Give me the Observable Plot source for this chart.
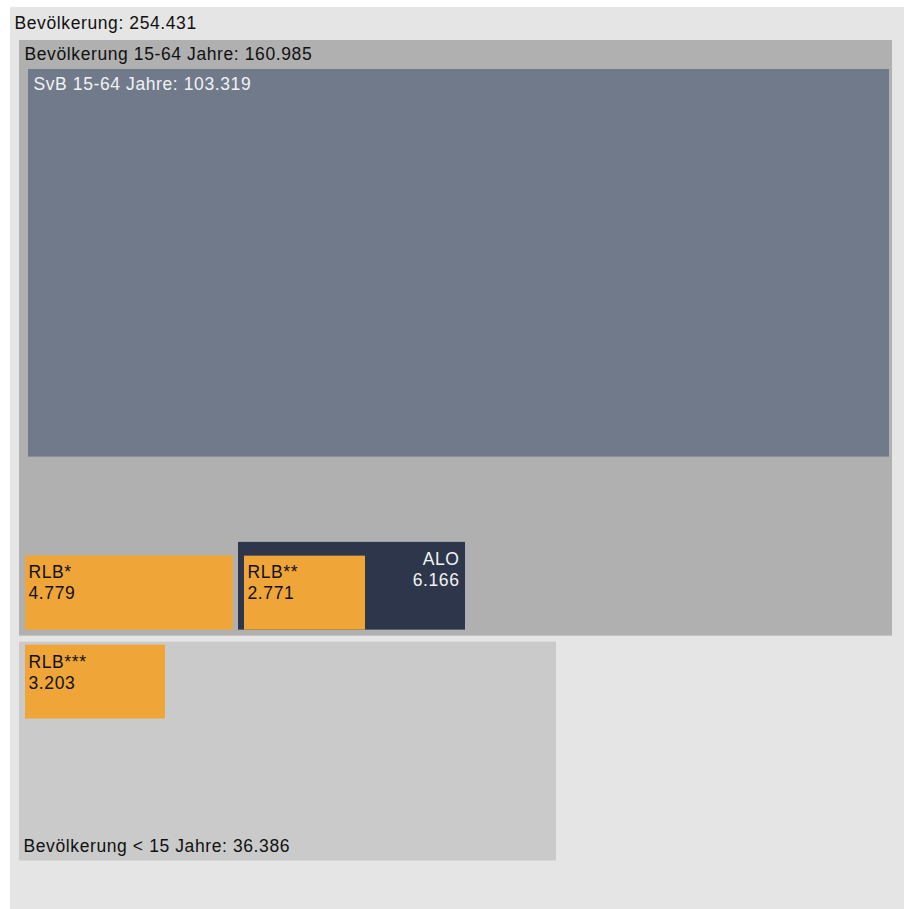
<!DOCTYPE html>
<html>
<head>
<meta charset="utf-8">
<script src="https://cdn.jsdelivr.net/npm/d3@7"></script>
<script src="https://cdn.jsdelivr.net/npm/@observablehq/plot@0.6"></script>
<style>
  html, body { margin: 0; padding: 0; background: #ffffff; }
  #chart svg { display: block; font-family: "Liberation Sans", Arial, sans-serif; }
  #chart svg text { letter-spacing: 0.6px; }
</style>
</head>
<body>
<div id="chart"></div>
<script>
// ---- data ----
const names   = ["Bevölkerung", "Bevölkerung 15-64 Jahre", "SvB 15-64 Jahre", "RLB*", "ALO", "RLB**", "Bevölkerung < 15 Jahre", "RLB***"];
const values  = [254431, 160985, 103319, 4779, 6166, 2771, 36386, 3203];
const parents = [-1, 0, 1, 1, 1, 4, 0, 6];

// ---- layout / style (not data) ----
const AREA_PER_PERSON = 3.23;   // px² per person
const W = 904, H = 909;
const FS = 17.5;
const layout = [
  {w: 894, place: "origin", dx: 10, dy: 7,  fill: "#e5e5e5", label: "title", tx: 4,  ty: 9,  color: "#111"},
  {w: 873, place: "top",    dx: 9,  dy: 33, fill: "#b0b0b0", label: "title", tx: 5,  ty: 7,  color: "#111"},
  {w: 861, place: "top",    dx: 9,  dy: 29, fill: "#717a8b", label: "title", tx: 5,  ty: 8,  color: "#f2f2f2"},
  {w: 208, place: "bottom", dx: 6,  dy: 6,  fill: "#efa537", label: "two",   tx: 3,  ty: 7,  color: "#111"},
  {w: 227, place: "after",  dx: 5,  dy: 6,  fill: "#2e364b", label: "twoR",  tx: 6,  ty: 8,  color: "#f2f2f2"},
  {w: 121, place: "bottom", dx: 6,  dy: 0,  fill: "#efa537", label: "two",   tx: 3,  ty: 7,  color: "#111"},
  {w: 537, place: "below",  dx: 9,  dy: 6,  fill: "#cacaca", label: "foot",  tx: 4,  ty: 21, color: "#111"},
  {w: 140, place: "top",    dx: 6,  dy: 3,  fill: "#efa537", label: "two",   tx: 3,  ty: 8,  color: "#111"}
];
const belowSibling = {6: 1};

const de = d3.formatLocale({decimal: ",", thousands: ".", grouping: [3], currency: ["", " €"]});
const fmt = de.format(",d");

const boxes = [];
names.forEach((name, i) => {
  const L = layout[i];
  const w = L.w;
  const h = values[i] * AREA_PER_PERSON / w;
  const p = boxes[parents[i]];
  let x1, y1;
  if (L.place === "origin") { x1 = L.dx; y1 = L.dy; }
  else if (L.place === "top") { x1 = p.x1 + L.dx; y1 = p.y1 + L.dy; }
  else if (L.place === "bottom") { x1 = p.x1 + L.dx; y1 = p.y2 - L.dy - h; }
  else if (L.place === "after") { const s = boxes[i - 1]; x1 = s.x2 + L.dx; y1 = p.y2 - L.dy - h; }
  else if (L.place === "below") { const s = boxes[belowSibling[i]]; x1 = p.x1 + L.dx; y1 = s.y2 + L.dy; }
  boxes.push({name, value: values[i], x1, y1, x2: x1 + w, y2: y1 + h, fill: L.fill, L});
});

const titleTexts = boxes.filter(b => b.L.label === "title").map(b => ({x: b.x1 + b.L.tx, y: b.y1 + b.L.ty, text: `${b.name}: ${fmt(b.value)}`, color: b.L.color}));
const twoTexts = boxes.filter(b => b.L.label === "two").map(b => ({x: b.x1 + b.L.tx, y: b.y1 + b.L.ty, text: `${b.name}\n${fmt(b.value)}`, color: b.L.color}));
const twoRTexts = boxes.filter(b => b.L.label === "twoR").map(b => ({x: b.x2 - b.L.tx, y: b.y1 + b.L.ty, text: `${b.name}\n${fmt(b.value)}`, color: b.L.color}));
const footTexts = boxes.filter(b => b.L.label === "foot").map(b => ({x: b.x1 + b.L.tx, y: b.y2 - b.L.ty, text: `${b.name}: ${fmt(b.value)}`, color: b.L.color}));

const chart = Plot.plot({
  width: W, height: H,
  marginTop: 0, marginRight: 0, marginBottom: 0, marginLeft: 0,
  x: {domain: [0, W], range: [0, W], axis: null},
  y: {domain: [0, H], range: [0, H], axis: null},
  color: {type: "identity"},
  style: {background: "transparent", fontFamily: "'Liberation Sans', Arial, sans-serif", overflow: "hidden"},
  marks: [
    Plot.rect(boxes, {x1: "x1", x2: "x2", y1: "y1", y2: "y2", fill: "fill"}),
    Plot.text(titleTexts, {x: "x", y: "y", text: "text", fill: "color", textAnchor: "start", lineAnchor: "top", fontSize: FS}),
    Plot.text(twoTexts, {x: "x", y: "y", text: "text", fill: "color", textAnchor: "start", lineAnchor: "top", fontSize: FS, lineHeight: 1.2}),
    Plot.text(twoRTexts, {x: "x", y: "y", text: "text", fill: "color", textAnchor: "end", lineAnchor: "top", fontSize: FS, lineHeight: 1.2}),
    Plot.text(footTexts, {x: "x", y: "y", text: "text", fill: "color", textAnchor: "start", lineAnchor: "top", fontSize: FS})
  ]
});
document.getElementById("chart").appendChild(chart);
</script>
</body>
</html>
